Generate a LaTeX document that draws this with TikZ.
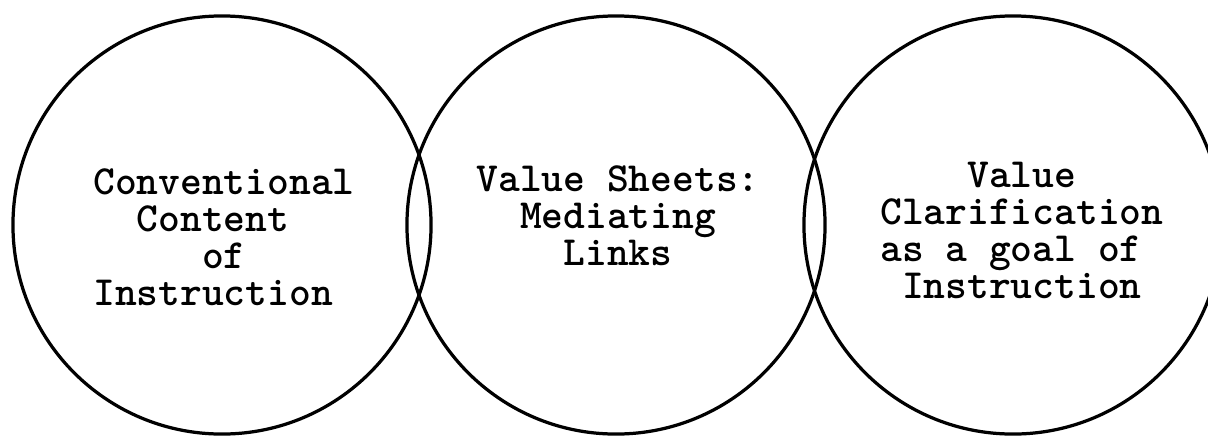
\documentclass[tikz,border=0pt]{standalone}
\usepackage{fontspec}
\begin{document}
\begin{tikzpicture}[x=0.025cm,y=-0.025cm,
  ring/.style={draw,circle,line width=2.3pt,minimum size=10.45cm,inner sep=0pt},
  words/.style={font=\ttfamily\bfseries\fontsize{29.5pt}{26.3pt}\selectfont,inner sep=0pt}]
\useasboundingbox (0,0) rectangle (1208,435);
\clip (0,0) rectangle (1208,435);
\node[ring] (left) at (222,225) {};
\node[ring] (middle) at (616,225) {};
\node[ring] (right) at (1013,225) {};
\node[words,align=left,anchor=base west] (conv) at (93,305)
  {Conventional\\~~Content\\~~~~~of\\Instruction};
\node[words,align=center,anchor=base] (sheets) at (618,265)
  {Value Sheets:\\Mediating\\Links};
\node[words,align=left,anchor=base west] (clar) at (880,298)
  {~~~~Value\\Clarification\\as a goal of\\~Instruction};
\end{tikzpicture}
\end{document}
